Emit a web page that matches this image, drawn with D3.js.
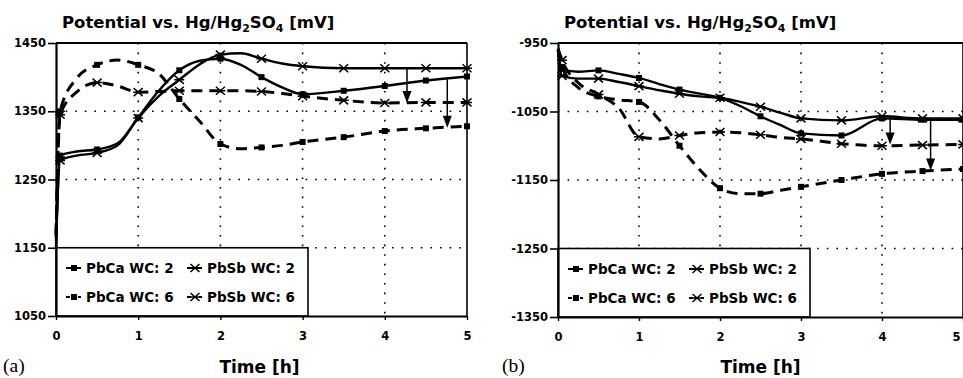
<!DOCTYPE html>
<html>
<head>
<meta charset="utf-8">
<title>Potential vs. Hg/Hg2SO4</title>
<script src="https://d3js.org/d3.v7.min.js"></script>
<style>
body{margin:0;background:#fff;}
svg text{font-family:"DejaVu Sans",sans-serif;font-weight:bold;fill:#000;}
</style>
</head>
<body>
<svg width="963" height="378"></svg>
<script>
// time points (h), shared by all series
var hours = [0,0.05,0.25,0.5,0.75,1,1.25,1.5,1.75,2,2.25,2.5,2.75,3,3.5,4,4.5,5];
var seriesNames = ["PbCa WC: 2","PbSb WC: 2","PbCa WC: 6","PbSb WC: 6"];

// panel (a) potentials, mV
var a_pbca2 = [1150,1285,1291,1294,1303,1341,1380,1410,1424,1427,1418,1400,1385,1375,1380,1387,1395,1401];
var a_pbsb2 = [1160,1278,1285,1289,1300,1340,1372,1396,1419,1433,1435,1427,1420,1416,1413,1413,1413,1413];
var a_pbca6 = [1170,1350,1398,1418,1425,1418,1405,1368,1335,1302,1295,1297,1300,1305,1312,1321,1325,1328];
var a_pbsb6 = [1165,1345,1378,1392,1387,1378,1379,1380,1380,1380,1380,1379,1376,1372,1366,1362,1363,1363];

// panel (b) potentials, mV
var b_pbca2 = [-965,-988,-992,-990,-995,-1001,-1010,-1018,-1024,-1030,-1042,-1057,-1070,-1082,-1085,-1060,-1062,-1062];
var b_pbsb2 = [-960,-998,-1002,-1002,-1007,-1013,-1019,-1024,-1028,-1030,-1036,-1043,-1052,-1060,-1063,-1057,-1060,-1060];
var b_pbca6 = [-960,-985,-1015,-1028,-1033,-1036,-1062,-1100,-1135,-1162,-1170,-1170,-1165,-1160,-1150,-1141,-1137,-1134];
var b_pbsb6 = [-958,-975,-1008,-1025,-1045,-1087,-1090,-1085,-1081,-1080,-1081,-1084,-1088,-1090,-1097,-1100,-1099,-1098];

var xTicks = [0,1,2,3,4,5];
var yTicksA = [1050,1150,1250,1350,1450];
var yTicksB = [-1350,-1250,-1150,-1050,-950];

// arrows: [time, from mV, to mV]
var arrowsA = [[4.27,1413,1362],[4.76,1398,1326]];
var arrowsB = [[4.1,-1058,-1098],[4.6,-1060,-1136]];

var styles = [
  {dash:null, marker:"square"},
  {dash:null, marker:"cross"},
  {dash:"11,7", marker:"square"},
  {dash:"11,7", marker:"cross"}
];

var svg = d3.select("svg");

function drawPanel(o){
  var g = svg.append("g");
  var x = d3.scaleLinear().domain([0,5]).range([o.left,o.right]);
  var y = d3.scaleLinear().domain([o.yTicks[0],o.yTicks[o.yTicks.length-1]]).range([o.bottom,o.top]);

  // dotted grid
  g.selectAll(".vg").data(xTicks.slice(1,5)).enter().append("line")
    .attr("x1",d=>x(d)).attr("x2",d=>x(d)).attr("y1",o.top).attr("y2",o.bottom)
    .attr("stroke","#000").attr("stroke-width",1.6).attr("stroke-dasharray","1.6,8");
  g.selectAll(".hg").data(o.yTicks.slice(1,4)).enter().append("line")
    .attr("x1",o.left).attr("x2",o.right).attr("y1",d=>y(d)).attr("y2",d=>y(d))
    .attr("stroke","#000").attr("stroke-width",1.6).attr("stroke-dasharray","1.6,8");

  // frame top and right
  g.append("line").attr("x1",o.left).attr("x2",o.right).attr("y1",o.top).attr("y2",o.top)
    .attr("stroke","#000").attr("stroke-width",2);
  g.append("line").attr("x1",o.right).attr("x2",o.right).attr("y1",o.top).attr("y2",o.bottom)
    .attr("stroke","#000").attr("stroke-width",1.6);

  var line = d3.line().x((d,i)=>x(hours[i])).y(d=>y(d)).curve(d3.curveMonotoneX);

  o.series.forEach(function(vals,k){
    var st = styles[k];
    g.append("path").attr("d",line(vals)).attr("fill","none")
      .attr("stroke","#000").attr("stroke-width",st.dash?3:2.4)
      .attr("stroke-dasharray",st.dash);
    var pts = vals.map((v,i)=>[hours[i],v]).filter(p=>p[0]===0.05||(p[0]*2)%1===0&&p[0]>0);
    drawMarkers(g,pts.map(p=>[x(p[0]),y(p[1])]),st.marker);
  });

  // arrows
  o.arrows.forEach(function(a){
    var ax = x(a[0]), y0 = y(a[1]), y1 = y(a[2]);
    g.append("line").attr("x1",ax).attr("x2",ax).attr("y1",y0).attr("y2",y1-10)
      .attr("stroke","#000").attr("stroke-width",1.5);
    g.append("path").attr("d",`M${ax-4.5},${y1-12}L${ax+4.5},${y1-12}L${ax},${y1}Z`).attr("fill","#000");
  });

  // legend
  var lg = g.append("g");
  lg.append("rect").attr("x",o.left).attr("y",y(o.yTicks[1])).attr("width",o.legendW)
    .attr("height",y(o.yTicks[0])-y(o.yTicks[1])).attr("fill","#fff").attr("stroke","#000").attr("stroke-width",1.6);
  seriesNames.forEach(function(name,k){
    var st = styles[k];
    var cx = o.left + (k%2===0?10:131);
    var cy = o.bottom - (k<2?48:19);
    lg.append("line").attr("x1",cx).attr("x2",cx+15).attr("y1",cy).attr("y2",cy)
      .attr("stroke","#000").attr("stroke-width",2).attr("stroke-dasharray",st.dash?"4,2":null);
    drawMarkers(lg,[[cx+8,cy]],st.marker);
    lg.append("text").attr("x",cx+20).attr("y",cy+5).attr("font-size",13.5).text(name);
  });

  // axes
  var yAxis = g.append("g").attr("transform",`translate(${o.left},0)`)
    .call(d3.axisLeft(y).tickValues(o.yTicks).tickSize(8).tickSizeOuter(0).tickPadding(2).tickFormat(d=>String(d)));
  yAxis.selectAll("text").attr("font-size",11.5).style("font-family","'DejaVu Sans',sans-serif").style("font-weight","bold");
  yAxis.select(".domain").attr("stroke-width",2.2);
  yAxis.selectAll(".tick line").attr("stroke-width",1.6);

  var xAxis = g.append("g").attr("transform",`translate(0,${o.bottom})`)
    .call(d3.axisBottom(x).tickValues(xTicks).tickSize(4).tickSizeOuter(0).tickPadding(12).tickFormat(d=>String(d)));
  xAxis.selectAll("text").attr("font-size",11.5).style("font-family","'DejaVu Sans',sans-serif").style("font-weight","bold");
  xAxis.select(".domain").attr("stroke-width",2.2);
  xAxis.selectAll(".tick line").attr("stroke-width",1.4);
  if(o.right>955){
    // keep the last tick label inside the window
    xAxis.selectAll(".tick text").filter(d=>d===5).attr("text-anchor","end").attr("dx",-3);
  }

  // title
  var t = g.append("text").attr("x",o.left+6).attr("y",28).attr("font-size",16.5);
  t.append("tspan").text("Potential vs. Hg/Hg");
  t.append("tspan").attr("font-size",11).attr("dy",4).text("2");
  t.append("tspan").attr("dy",-4).text("SO");
  t.append("tspan").attr("font-size",11).attr("dy",4).text("4");
  t.append("tspan").attr("dy",-4).text(" [mV]");

  g.append("text").attr("x",(o.left+o.right)/2+ o.xlabOff).attr("y",373).attr("text-anchor","middle")
    .attr("font-size",17).text("Time [h]");
  g.append("text").attr("x",o.capX).attr("y",372).attr("font-size",19.5)
    .style("font-family","'Liberation Serif',serif").style("font-weight","normal").text(o.cap);
}

function drawMarkers(g,pts,type){
  if(type==="square"){
    g.selectAll(null).data(pts).enter().append("rect")
      .attr("x",d=>d[0]-3).attr("y",d=>d[1]-3).attr("width",6).attr("height",6).attr("fill","#000");
  } else {
    g.selectAll(null).data(pts).enter().append("path")
      .attr("d",d=>`M${d[0]-4.5},${d[1]-4}L${d[0]+4.5},${d[1]+4}M${d[0]-4.5},${d[1]+4}L${d[0]+4.5},${d[1]-4}M${d[0]-5},${d[1]}L${d[0]+5},${d[1]}`)
      .attr("stroke","#000").attr("stroke-width",1.5).attr("fill","none");
  }
}

drawPanel({left:56,right:467,top:43,bottom:316,yTicks:yTicksA,
  series:[a_pbca2,a_pbsb2,a_pbca6,a_pbsb6],arrows:arrowsA,legendW:252,cap:"(a)",capX:3,xlabOff:-2});
drawPanel({left:558,right:963,top:43,bottom:317,yTicks:yTicksB,
  series:[b_pbca2,b_pbsb2,b_pbca6,b_pbsb6],arrows:arrowsB,legendW:252,cap:"(b)",capX:502,xlabOff:0});
</script>
</body>
</html>
